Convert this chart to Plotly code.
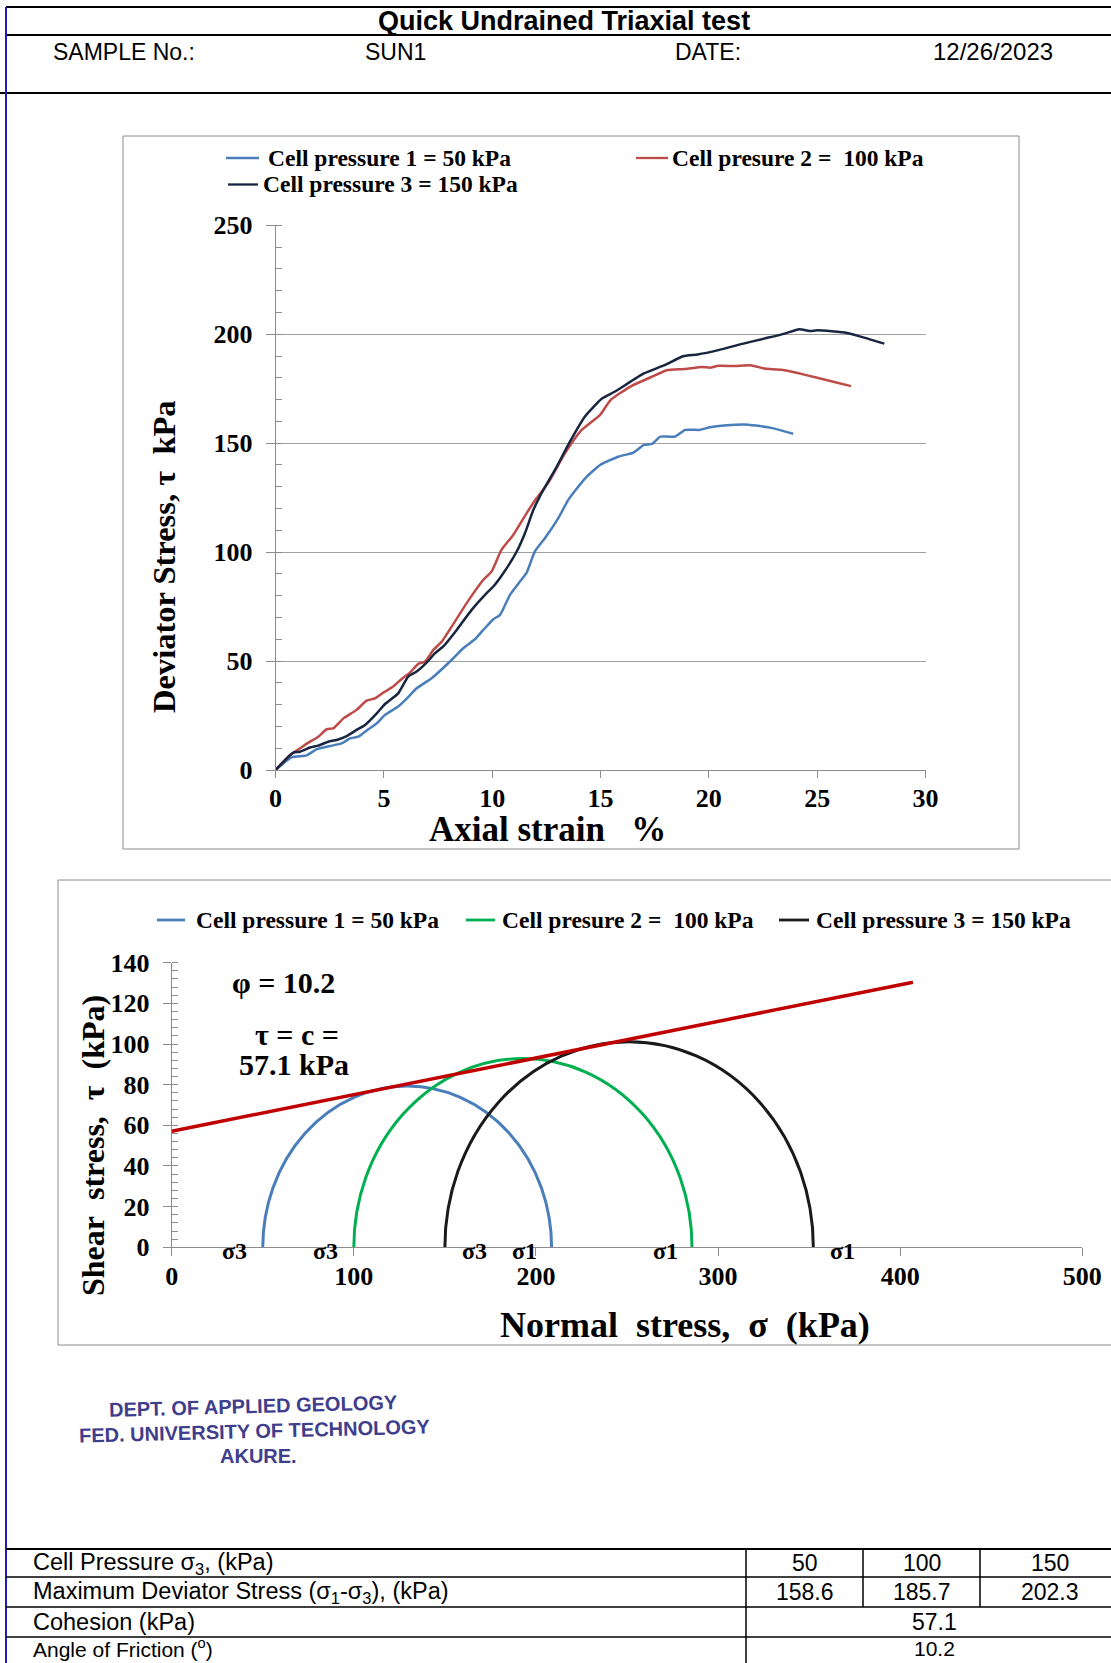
import plotly.graph_objects as go

# ---------------- data ----------------
strain_1 = [0, 0.74, 1.43, 1.89, 2.51, 3.05, 3.44, 3.82, 4.28, 4.67, 5.05, 5.66, 6.12, 6.51, 7.2, 8.05,
            8.66, 9.2, 9.59, 10.05, 10.36, 10.82, 11.28, 11.59, 11.97, 12.43, 13.05, 13.51, 14.3, 14.98,
            15.85, 16.52, 17.0, 17.38, 17.76, 18.43, 18.91, 19.58, 20.06, 20.82, 21.59, 22.16, 22.93, 23.89]
stress_1 = [0, 5.8, 6.7, 9.5, 11.0, 12.2, 14.5, 15.3, 18.7, 21.4, 25.3, 29.1, 33.4, 37.5, 42.1, 49.8,
            55.9, 60.0, 64.3, 69.2, 71.2, 80.4, 86.5, 90.6, 100.3, 106.4, 115.6, 124.0, 134.0, 140.0,
            143.9, 145.7, 149.2, 149.7, 153.0, 153.0, 156.1, 156.1, 157.3, 158.2, 158.6, 158.1, 156.9, 154.3]

strain_2 = [0, 0.66, 1.13, 1.59, 1.97, 2.36, 2.66, 3.13, 3.74, 4.2, 4.59, 4.97, 5.43, 5.82, 6.2, 6.59,
            6.9, 7.28, 7.67, 8.05, 8.82, 9.59, 9.97, 10.43, 10.97, 11.59, 12.05, 12.6, 13.36, 14.12, 14.98,
            15.46, 16.42, 17.38, 18.05, 18.9, 19.67, 20.05, 20.44, 21.2, 21.97, 22.55, 23.5, 26.56]
stress_2 = [0, 6.9, 10.0, 13.0, 15.3, 18.7, 19.1, 23.7, 27.6, 31.8, 32.9, 35.5, 38.3, 41.8, 44.7, 48.7,
            49.8, 55.1, 58.9, 64.6, 76.6, 87.3, 91.1, 101.1, 107.9, 117.9, 124.8, 132.0, 145.4, 156.0, 163.0,
            169.8, 176.2, 180.5, 183.5, 184.0, 185.0, 184.6, 185.5, 185.4, 185.7, 184.3, 183.5, 176.2]

strain_3 = [0, 0.82, 1.13, 1.59, 1.97, 2.43, 2.82, 3.28, 3.74, 4.13, 4.67, 5.05, 5.66, 6.12, 6.51, 6.97,
            7.36, 7.74, 8.36, 9.05, 9.74, 10.05, 10.51, 11.13, 11.51, 11.9, 12.2, 12.98, 13.55, 14.28, 15.08,
            15.65, 17.0, 17.95, 18.81, 19.48, 20.44, 21.59, 22.55, 23.5, 24.17, 24.65, 25.03, 26.37, 27.33, 28.1]
stress_3 = [0, 8.0, 8.4, 10.3, 11.2, 13.0, 13.8, 15.6, 18.4, 20.7, 26.0, 30.3, 35.2, 42.9, 45.2, 49.3,
            53.6, 56.7, 64.3, 73.5, 81.2, 84.2, 90.3, 100.3, 108.7, 119.4, 125.6, 139.3, 150.0, 162.2, 170.6,
            173.6, 182.0, 185.8, 189.9, 190.7, 192.7, 195.7, 198.0, 200.3, 202.3, 201.5, 201.8, 200.6, 198.0, 195.7]

series_names_top = ["Cell pressure 1 = 50 kPa", "Cell presure 2 =  100 kPa", "Cell pressure 3 = 150 kPa"]
series_names_bot = ["Cell pressure 1 = 50 kPa", "Cell presure 2 =  100 kPa", "Cell pressure 3 = 150 kPa"]

sigma3 = [50, 100, 150]
dev_max = [158.6, 185.7, 202.3]
cohesion = 57.1
friction = 10.2
envelope_sigma = [0, 407]
envelope_tau = [57.1, 130.4]

sigma_labels = ["σ3", "σ3", "σ3", "σ1", "σ1", "σ1"]

header_labels = ["SAMPLE No.:", "SUN1", "DATE:", "12/26/2023"]
table_labels = ["Cell Pressure σ<sub>3</sub>, (kPa)",
                "Maximum Deviator Stress (σ<sub>1</sub>-σ<sub>3</sub>), (kPa)",
                "Cohesion (kPa)",
                "Angle of Friction (<sup>o</sup>)"]
row_cell_pressure = ["50", "100", "150"]
row_max_dev = ["158.6", "185.7", "202.3"]
row_cohesion = "57.1"
row_friction = "10.2"
stamp_lines = ["DEPT. OF APPLIED GEOLOGY", "FED. UNIVERSITY OF TECHNOLOGY", "AKURE."]

# ---------------- layout helpers ----------------
W, H = 1111, 1663
def px(x): return x / W
def py(y): return 1 - y / H

SERIF = "Liberation Serif"
SANS = "Liberation Sans"
GRAY = "#8c8c8c"
top_colors = ["#4a7ebb", "#be4b48", "#17253f"]
bot_colors = ["#4a7ebb", "#00b050", "#1a1a1a"]
NB = "\u00a0"

fig = go.Figure()

for s, t, c, n in zip([strain_1, strain_2, strain_3], [stress_1, stress_2, stress_3], top_colors, series_names_top):
    fig.add_trace(go.Scatter(x=s, y=t, mode="lines", name=n, line=dict(color=c, width=2.5, shape="spline", smoothing=0.5),
                             xaxis="x", yaxis="y", showlegend=False))

fig.add_trace(go.Scatter(x=envelope_sigma, y=envelope_tau, mode="lines", line=dict(color="#c00000", width=3.5),
                         xaxis="x2", yaxis="y2", showlegend=False))

shapes = []
annotations = []

# Mohr circles (clipped to the subplot by the axes)
for s3, d, c in zip(sigma3, dev_max, bot_colors):
    shapes.append(dict(type="circle", xref="x2", yref="y2", x0=s3, x1=s3 + d, y0=-d / 2, y1=d / 2,
                       line=dict(color=c, width=3), layer="below"))

def hline(x0, x1, y, color="black", w=2):
    shapes.append(dict(type="line", xref="paper", yref="paper", x0=px(x0), x1=px(x1), y0=py(y), y1=py(y),
                       line=dict(color=color, width=w)))

def vline(x, y0, y1, color="black", w=2):
    shapes.append(dict(type="line", xref="paper", yref="paper", x0=px(x), x1=px(x), y0=py(y0), y1=py(y1),
                       line=dict(color=color, width=w)))

def text(x, y, s, size, family=SERIF, bold=True, xanchor="center", color="black", angle=0, yanchor="middle"):
    annotations.append(dict(xref="paper", yref="paper", x=px(x), y=py(y), text=s, showarrow=False,
                            xanchor=xanchor, yanchor=yanchor, textangle=angle,
                            font=dict(family=family, size=size, color=color, weight="bold" if bold else "normal")))

# page frame / header
hline(6, 1111, 7)
hline(6, 1111, 35)
hline(0, 1111, 93)
vline(6, 7, 1663, color="#1c1cb8", w=2)
text(564, 21, "Quick Undrained Triaxial test", 27, family=SANS)
text(51, 52, header_labels[0], 23, family=SANS, bold=False, xanchor="left")
text(395, 52, header_labels[1], 23, family=SANS, bold=False)
text(708, 52, header_labels[2], 23, family=SANS, bold=False)
text(993, 52, header_labels[3], 24, family=SANS, bold=False)

# chart frames
shapes.append(dict(type="rect", xref="paper", yref="paper", x0=px(123), x1=px(1019), y0=py(849), y1=py(136),
                   line=dict(color=GRAY, width=1), layer="below"))
shapes.append(dict(type="rect", xref="paper", yref="paper", x0=px(58), x1=px(1116), y0=py(1345), y1=py(880),
                   line=dict(color=GRAY, width=1), layer="below"))

# top legend
leg_top = [(226, 259, 158, 266), (636, 668, 158, 670), (228, 258, 184.5, 261)]
for (a, b, yy, tx), c, n in zip(leg_top, top_colors, series_names_top):
    hline(a, b, yy, color=c, w=2.3)
    text(tx, yy, n.replace("  ", NB + NB), 23.5, xanchor="left")

# bottom legend
leg_bot = [(157, 185, 920, 194), (466, 495, 920, 500), (779, 809, 920, 814)]
for (a, b, yy, tx), c, n in zip(leg_bot, bot_colors, series_names_bot):
    hline(a, b, yy, color=c, w=2.8)
    text(tx, yy, n.replace("  ", NB + NB), 23.5, xanchor="left")

# axis titles
text(547, 830, "Axial strain" + NB * 3 + "%", 35)
text(164, 557, "Deviator Stress, τ" + NB * 2 + "kPa", 32.5, angle=-90)
text(685, 1325, "Normal" + NB * 2 + "stress," + NB * 2 + "σ" + NB * 2 + "(kPa)", 36)
text(93, 1146, "Shear" + NB * 2 + "stress," + NB * 2 + "τ" + NB * 2 + "(kPa)", 32, angle=-90)

# Mohr annotations
text(283, 982, "φ = " + str(friction), 30)
text(297, 1034, "τ = c =", 30)
text(294, 1064, f"{cohesion} kPa", 30)
for lab, xx in zip(sigma_labels, [234, 325, 474, 524, 665, 842]):
    text(xx, 1251, lab, 24)

# stamp
stamp_color = "#403e8c"
text(253, 1406, stamp_lines[0], 20, family=SANS, color=stamp_color, angle=-1.5)
text(254, 1431, stamp_lines[1], 20, family=SANS, color=stamp_color, angle=-1.5)
text(258, 1456, stamp_lines[2], 20, family=SANS, color=stamp_color)

# table
hline(6, 1111, 1549, w=2)
hline(6, 1111, 1577, w=1.5)
hline(6, 1111, 1607, w=1.5)
hline(6, 1111, 1637, w=1.5)
vline(746, 1549, 1663, w=1.5)
vline(863, 1549, 1607, w=1.5)
vline(980, 1549, 1607, w=1.5)
row_y = [1563, 1592, 1622, 1648]
row_size = [23.5, 23.5, 23.5, 21]
for lab, yy, sz in zip(table_labels, row_y, row_size):
    text(31, yy, lab, sz, family=SANS, bold=False, xanchor="left")
col_x = [804.5, 921.5, 1050]
for v, xx in zip(row_cell_pressure, col_x):
    text(xx, row_y[0], v, 23, family=SANS, bold=False)
for v, xx in zip(row_max_dev, col_x):
    text(xx, row_y[1], v, 23, family=SANS, bold=False)
text(934, row_y[2], row_cohesion, 23, family=SANS, bold=False)
text(934, row_y[3], row_friction, 21, family=SANS, bold=False)

tickfont = dict(family=SERIF, size=26, color="black", weight="bold")

fig.update_layout(
    template="none",
    width=W, height=H, margin=dict(l=0, r=0, t=0, b=0, pad=0, autoexpand=False),
    paper_bgcolor="white", plot_bgcolor="rgba(0,0,0,0)",
    showlegend=False,
    shapes=shapes, annotations=annotations,
    xaxis=dict(domain=[px(275.6), px(925.5)], anchor="y", range=[0, 30], dtick=5, tick0=0, automargin=False,
               showgrid=False, zeroline=False, showline=True, linecolor=GRAY, linewidth=1,
               ticks="outside", ticklen=7, tickcolor=GRAY, tickfont=tickfont, ticklabelstandoff=-2),
    yaxis=dict(domain=[py(770), py(225.3)], anchor="x", range=[0, 250], dtick=50, tick0=0, automargin=False,
               showgrid=True, gridcolor="#a0a0a0", gridwidth=1, zeroline=False, showline=True,
               linecolor=GRAY, linewidth=1, ticks="outside", ticklen=9, tickcolor=GRAY,
               tickfont=tickfont, ticklabelstandoff=8,
               minor=dict(dtick=10, ticks="inside", ticklen=6, tickcolor=GRAY, showgrid=False)),
    xaxis2=dict(domain=[px(171.7), px(1082.3)], anchor="y2", range=[0, 500], dtick=100, tick0=0, automargin=False,
                showgrid=False, zeroline=False, showline=True, linecolor=GRAY, linewidth=1,
                ticks="outside", ticklen=8, tickcolor=GRAY, tickfont=tickfont, ticklabelstandoff=-3),
    yaxis2=dict(domain=[py(1247.3), py(962.7)], anchor="x2", range=[0, 140], dtick=20, tick0=0, automargin=False,
                showgrid=False, zeroline=False, showline=True, linecolor=GRAY, linewidth=1,
                ticks="outside", ticklen=8, tickcolor=GRAY, tickfont=tickfont, ticklabelstandoff=8,
                minor=dict(dtick=4, ticks="inside", ticklen=6, tickcolor=GRAY, showgrid=False)),
)

fig.write_html(
    "out.html",
    config={"displayModeBar": False},
    post_script=(
        "document.documentElement.style.margin='0px';document.documentElement.style.padding='0px';"
        "document.body.style.margin='0px';document.body.style.padding='0px';"
        "document.documentElement.style.overflow='hidden';document.body.style.overflow='hidden';"
        "var gd=document.querySelector('.plotly-graph-div');"
        "gd.style.position='absolute';gd.style.left='0px';gd.style.top='0px';"
    ),
)
